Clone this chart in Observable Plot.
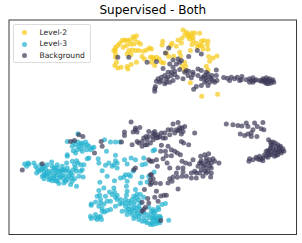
<!DOCTYPE html>
<html><head><meta charset="utf-8">
<script src="https://cdn.jsdelivr.net/npm/d3@7"></script>
<script src="https://cdn.jsdelivr.net/npm/@observablehq/plot@0.6"></script>
<style>
html,body{margin:0;padding:0;background:#fff;overflow:hidden}
#wrap{position:relative;width:302px;height:243px;font-family:"DejaVu Sans",sans-serif}
svg{display:block}
#legend{position:absolute;left:12.5px;top:23.5px;width:76px;height:37px;border:1px solid #dcdcdc;border-radius:2px;background:rgba(255,255,255,.8);box-sizing:content-box;font-size:7.6px;color:#222}
#legend div{position:absolute;left:26px;white-space:nowrap;line-height:10px}
#legend i{position:absolute;left:-17.5px;top:2.5px;width:5px;height:5px;border-radius:50%;opacity:.7}
</style></head><body><div id="wrap"></div>
<script>
const title = "Supervised - Both";
const seriesNames = ["Level-2", "Level-3", "Background"];
const seriesColors = ["#f6c915", "#1fb0cf", "#3d3a58"];

// Point readings, on a grid of thirds of a pixel, grouped by where they sit in the picture
const level2Left = [[345,148],[352,135],[358,128],[365,120],[372,118],[380,120],[388,118],[398,108],[408,105],[402,115],[412,125],[420,130],[400,130],[390,130],[378,135],[368,140],[345,140],[340,150],[385,150],[395,148],[405,150],[415,150],[380,160],[392,162],[428,152],[438,148],[447,142],[425,168],[432,175],[345,170],[348,185],[343,195],[352,202],[362,200],[380,198],[382,205],[392,192],[408,185],[450,170],[345,160]];
const level2Right = [[95,88],[105,95],[112,100],[122,97],[130,97],[145,98],[100,103],[110,108],[118,106],[125,110],[92,113],[80,118],[115,115],[125,120],[135,128],[122,132],[150,122],[158,120],[170,122],[62,128],[34,122],[32,133],[58,135],[75,137],[90,127],[145,135],[152,135],[168,133],[170,146],[155,145],[138,140],[117,150],[85,155],[0,145],[88,167],[67,167],[45,158],[15,170],[8,175],[3,170],[23,175],[30,185],[37,187],[10,195],[52,168],[100,186],[92,198],[103,197],[172,168],[185,172],[197,166],[175,182],[165,197],[170,208],[117,247],[151,287],[199,281],[100,210],[0,185]];
const level3Lower = [[232,37],[200,60],[218,62],[232,62],[240,68],[255,62],[265,75],[280,78],[215,75],[218,88],[230,85],[245,90],[258,85],[270,85],[200,100],[200,105],[260,112],[265,110],[312,55],[330,62],[345,62],[358,62],[318,90],[345,102],[293,112],[295,125],[345,118],[392,110],[405,115],[430,110],[372,115],[380,128],[350,125],[340,130],[325,125],[315,132],[335,135],[350,140],[305,148],[320,165],[360,170],[375,160],[385,160],[370,168],[390,165],[398,150],[425,130],[435,128],[425,167],[445,165],[420,185],[440,182],[298,183],[342,178],[380,180],
[72,128],[82,125],[78,135],[100,125],[110,142],[108,155],[130,135],[140,130],[153,122],[170,130],[185,135],[198,125],[215,120],[228,118],[232,125],[222,130],[250,130],[245,145],[240,150],[248,167],[235,165],[222,172],[228,195],[210,190],[195,180],[175,187],[155,178],[130,172],[125,165],[130,150],[145,150],[150,160],[165,155],[175,170],[185,160],[195,165],[205,150],[218,145],[205,165],[170,140],[150,172],[165,178],[180,150],[195,150],[212,170],[160,140],[120,145],[140,165],[228,150],[188,172],
[115,150],[125,140],[135,142],[140,155],[155,150],[160,165],[170,160],[175,150],[180,165],[190,145],[200,140],[210,155],[215,160],[225,140],[135,160],[145,175],[160,170],[170,180],[190,185],[200,175],[215,180],[130,160],[165,145],[185,145],[155,135],[120,130],[105,135],[85,128],[240,130],[225,70],[235,75],[250,75],[245,65],[260,70],[275,80],[225,95],[240,82],
[310,200],[295,208],[298,222],[290,225],[327,212],[340,200],[342,212],[350,222],[345,228],[360,235],[378,195],[380,210],[378,222],[405,205],[410,218],[400,225],[420,220],[430,228],[285,242],[272,248],[272,252],[300,245],[310,248],[315,225],[358,248],[345,255],[375,245],[390,245],[400,250],[415,255],[305,262],[330,265],[320,268],[312,272],[365,270],[378,268],[380,280],[395,265],[405,270],[410,260],[395,280],[400,292],[420,278],[425,300],[440,305],[450,310],[270,285],[272,292],[285,290],[295,288],[303,295],[300,285],[440,280],[430,290],[415,285],[385,255],[445,258],
[375,235],[385,240],[395,235],[405,240],[415,235],[400,260],[385,265],[390,272],[375,255],[365,245],[410,275],[405,285],[415,295],[430,275],[420,265],[435,300],[445,290],[350,235],[335,220],[330,240],[300,235],[295,255],[305,270],[320,240],[285,280],[290,295],[408,228],[420,245]];
const level3LowerRight = [[5,88],[10,85],[8,152],[42,247],[32,250],[20,258],[22,265],[0,270],[8,275],[25,285],[15,285],[5,295],[12,300],[25,305],[0,305],[15,308],[5,310],[52,297],[0,280],[18,295],[28,290],[3,290],[10,290],[20,300],[5,265],[12,270]];
const backgroundUpperLeft = [[352,170],[385,170],[440,185]];
const backgroundUpperRight = [[52,142],[42,157],[112,168],[138,150],[150,160],[15,183],[65,178],[55,190],[80,175],[85,185],[90,180],[75,190],[35,204],[50,215],[65,200],[70,212],[85,207],[60,215],[100,215],[105,210],[112,212],[125,215],[140,205],[150,210],[165,215],[195,208],[20,235],[15,242],[30,230],[40,225],[45,235],[60,225],[65,240],[55,245],[40,250],[25,245],[78,230],[95,235],[110,225],[125,222],[140,225],[150,235],[160,225],[170,220],[175,230],[182,225],[195,225],[165,240],[175,245],[190,245],[197,240],[150,255],[170,255],[135,258],[127,266],[12,258],[10,265],[10,272],
[30,240],[50,230],[70,222],[120,232],[155,230],[165,232],[180,235],[185,240],[160,245],[45,245],
[217,231],[228,233],[235,240],[240,230],[250,235],[258,230],[265,240],[272,228],[270,238],[285,238],[295,235],[305,232],[315,238],[305,245],[295,245],[325,240],[335,235],[345,232],[355,235],[365,238],[340,245],[350,250],[358,248],[368,245],[330,242],[345,240],[355,242],[340,238],[350,238],[362,242],[335,240],[345,248],[300,240],[310,240]];
const backgroundLowerLeft = [[392,2],[235,40],[247,45],[222,57],[210,60],[302,60],[305,75],[363,62],[372,32],[372,42],[405,25],[418,18],[398,32],[410,32],[445,30],[437,45],[440,55],[410,60],[425,60],[395,70],[425,75],[435,70],[450,65],[282,95],[125,127],[65,146],[445,115],[450,120],[400,145],[405,140],[450,160],[450,175],[432,205],[442,232],[425,243],[445,245],[435,258],[425,270],[430,265],[450,190],[430,50],[415,65],[440,70],[445,45],[405,20]];
const backgroundLowerRight = [[65,8],[80,3],[100,15],[85,18],[50,25],[40,35],[30,35],[10,40],[5,35],[15,50],[5,55],[20,48],[35,50],[42,50],[55,40],[70,35],[80,28],[95,30],[90,38],[60,25],[130,35],[90,60],[97,65],[112,70],[30,72],[50,75],[60,85],[70,90],[78,95],[87,100],[42,90],[28,90],[60,103],[45,103],[35,112],[15,115],[3,120],[47,125],[55,140],[18,135],[92,120],[103,125],[115,128],[125,115],[148,105],[160,100],[172,97],[165,110],[150,118],[175,115],[185,112],[190,120],[203,125],[170,125],[160,130],[175,135],[140,135],[130,150],[120,155],[150,145],[160,150],[145,155],[135,170],[120,170],[155,165],[165,155],[180,140],[180,155],[178,167],[95,140],[95,152],[80,140],[75,155],[105,165],[65,167],[55,172],[50,185],[62,180],[78,168],[92,165],[27,187],[0,160],[5,172],[12,185],[0,185],[80,203],[15,210],[28,224],[38,222],[45,222],[10,228],[20,240],[28,298],
[150,125],[155,135],[165,120],[180,125],[165,140],[170,150],[145,125],[135,155],[10,30],[18,40],[25,45],[5,45],[85,25],[92,20],[75,25],
[225,8],[245,10],[260,12],[272,14],[285,5],[290,15],[310,5],[318,15],[330,22],[338,25],[305,25],[300,35],[290,38],[280,42],[267,38],[317,45],[300,45],[335,3],
[352,55],[358,62],[365,62],[372,65],[380,70],[388,75],[395,82],[398,90],[390,95],[380,100],[370,105],[360,100],[350,95],[345,105],[335,110],[325,115],[315,108],[305,115],[295,112],[293,120],[355,85],[365,80],[375,85],[385,85],[360,92],[370,95],[345,90],[325,105],[335,118],[350,108],[360,72],
[375,75],[385,78],[392,88],[380,92],[370,88],[358,80],[350,88],[340,100],[330,112],[318,112],[362,68],[355,100],[375,102],[385,90]];

const place = (pts, dx, dy, s) => pts.map(([x, y]) => ({x: x + dx, y: y + dy, s}));
const rows = [
  ...place(level2Left, 0, 0, "Level-2"),
  ...place(level2Right, 453, 0, "Level-2"),
  ...place(level3Lower, 0, 363, "Level-3"),
  ...place(level3LowerRight, 453, 363, "Level-3"),
  ...place(backgroundUpperLeft, 0, 0, "Background"),
  ...place(backgroundUpperRight, 453, 0, "Background"),
  ...place(backgroundLowerLeft, 0, 363, "Background"),
  ...place(backgroundLowerRight, 453, 363, "Background")
];

const chart = Plot.plot({
  width: 302, height: 243,
  marginLeft: 8.5, marginRight: 6, marginTop: 19.5, marginBottom: 9,
  x: {domain: [25, 889], axis: null},
  y: {domain: [703, 58], axis: null},
  color: {domain: seriesNames, range: seriesColors},
  style: {background: "#fff"},
  marks: [
    Plot.dot(rows, {x: "x", y: "y", r: 2.5, fill: "s", fillOpacity: 0.7, stroke: "none"}),
    Plot.frame({stroke: "#3a3a3a", strokeWidth: 1}),
    Plot.text([title], {frameAnchor: "top", dy: -14.5, text: d => d, fontSize: 12, fill: "#000", fontFamily: "DejaVu Sans", lineAnchor: "top"})
  ]
});
const wrap = document.getElementById("wrap");
wrap.appendChild(chart);
const legend = document.createElement("div");
legend.id = "legend";
seriesNames.forEach((n, i) => {
  const d = document.createElement("div");
  d.style.top = (3 + i * 11.7) + "px";
  d.textContent = n;
  const c = document.createElement("i");
  c.style.background = seriesColors[i];
  d.appendChild(c);
  legend.appendChild(d);
});
wrap.appendChild(legend);
</script></body></html>
